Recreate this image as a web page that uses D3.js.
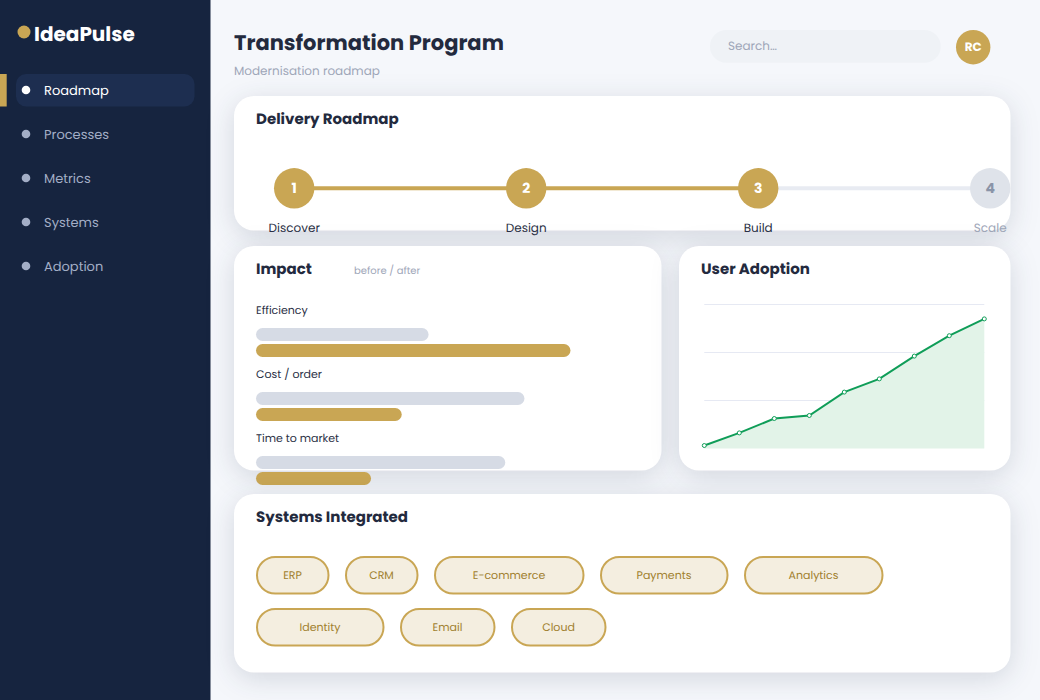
<!DOCTYPE html>
<html>
<head>
<meta charset="utf-8">
<title>Transformation Program</title>
<script src="https://cdn.jsdelivr.net/npm/d3@7"></script>
<style>
  html, body { margin: 0; padding: 0; background: #f5f7fb; overflow: hidden; }
  svg { display: block; font-family: Poppins, Inter, "Open Sans", sans-serif; text-rendering: geometricPrecision; }
  .card { fill: #fff; filter: drop-shadow(0 6px 14px rgba(22, 36, 63, .15)); }
  .card-title { font-size: 15px; font-weight: 700; fill: #232a3e; }
  .grid line { stroke: #e6e9f3; }
  .grid path { display: none; }
</style>
</head>
<body>
<div id="chart"></div>
<script>
const navItems = ["Roadmap", "Processes", "Metrics", "Systems", "Adoption"];
const steps = ["Discover", "Design", "Build", "Scale"];
const stepsDone = 3;
const impactLabels = ["Efficiency", "Cost / order", "Time to market"];
const impactBefore = [45, 70, 65];
const impactAfter = [82, 38, 30];
const adoption = [2.5, 13, 25, 27.5, 47, 58, 77, 94, 108];
const adoptionTicks = [40, 80, 120];
const systems = ["ERP", "CRM", "E-commerce", "Payments", "Analytics", "Identity", "Email", "Cloud"];

const gold = "#c9a654", navy = "#16243f", green = "#0f9d58", muted = "#9ea6b8";

const svg = d3.select("#chart").append("svg")
  .attr("width", 1040)
  .attr("height", 700);

// sidebar
svg.append("rect").attr("width", 210.5).attr("height", 700).attr("fill", navy);
svg.append("circle").attr("cx", 24).attr("cy", 32).attr("r", 6.5).attr("fill", gold);
svg.append("text").attr("x", 34).attr("y", 41)
  .attr("font-size", 20).attr("font-weight", 700).attr("fill", "#fff")
  .text("IdeaPulse");

svg.append("rect").attr("y", 74).attr("width", 6.7).attr("height", 32.5).attr("fill", gold);
svg.append("rect").attr("x", 16).attr("y", 74).attr("width", 178.5).attr("height", 32.5)
  .attr("rx", 10).attr("fill", "#1d2e50");

const navY = d3.scalePoint().domain(navItems).range([90, 266]);
const nav = svg.append("g").selectAll("g").data(navItems).enter().append("g")
  .attr("transform", d => "translate(0," + navY(d) + ")");
nav.append("circle").attr("cx", 26).attr("r", 4.3)
  .attr("fill", (d, i) => i == 0 ? "#fff" : "#a3aec6");
nav.append("text").attr("x", 44).attr("y", 0).attr("dy", "0.35em")
  .attr("font-size", 13)
  .attr("fill", (d, i) => i == 0 ? "#fff" : "#a3aec6")
  .text(d => d);

// header
svg.append("text").attr("x", 234).attr("y", 49.5)
  .attr("font-size", 21).attr("font-weight", 700).attr("fill", "#232a3e")
  .text("Transformation Program");
svg.append("text").attr("x", 234).attr("y", 75)
  .attr("font-size", 12).attr("fill", muted)
  .text("Modernisation roadmap");
svg.append("rect").attr("x", 710).attr("y", 30).attr("width", 230.7).attr("height", 32.7)
  .attr("rx", 16.3).attr("fill", "#eff2f6");
svg.append("text").attr("x", 728).attr("y", 50)
  .attr("font-size", 12).attr("fill", muted)
  .text("Search…");
svg.append("circle").attr("cx", 973.2).attr("cy", 47.2).attr("r", 17.2).attr("fill", gold);
svg.append("text").attr("x", 973.2).attr("y", 47.2).attr("dy", "0.35em")
  .attr("text-anchor", "middle").attr("font-size", 12).attr("font-weight", 700).attr("fill", "#fff")
  .text("RC");

function card(x, y, w, h, title) {
  const g = svg.append("g").attr("transform", "translate(" + x + "," + y + ")");
  g.append("rect").attr("class", "card").attr("width", w).attr("height", h).attr("rx", 20);
  g.append("text").attr("class", "card-title").attr("x", 22).attr("y", 27.5).text(title);
  return g;
}

// delivery roadmap
const road = card(234, 96, 776.5, 134.5, "Delivery Roadmap");
const stepX = d3.scalePoint().domain(steps).range([60.2, 756.2]);
const stepPairs = d3.pairs(steps);
road.selectAll(".link").data(stepPairs).enter().append("line")
  .attr("x1", d => stepX(d[0])).attr("x2", d => stepX(d[1]))
  .attr("y1", 92.3).attr("y2", 92.3)
  .attr("stroke-width", 4)
  .attr("stroke", (d, i) => i < stepsDone - 1 ? gold : "#e8ebf2");
const node = road.selectAll(".node").data(steps).enter().append("g")
  .attr("transform", d => "translate(" + stepX(d) + ",92.3)");
node.append("circle").attr("r", 20.2)
  .attr("fill", (d, i) => i < stepsDone ? gold : "#dfe3ea");
node.append("text").attr("dy", "0.35em").attr("text-anchor", "middle")
  .attr("font-size", 14).attr("font-weight", 700)
  .attr("fill", (d, i) => i < stepsDone ? "#fff" : "#8a94a8")
  .text((d, i) => i + 1);
node.append("text").attr("y", 44.2).attr("text-anchor", "middle")
  .attr("font-size", 12)
  .attr("fill", (d, i) => i < stepsDone ? "#2a3045" : muted)
  .text(d => d);

// impact bars
const impact = card(234, 246, 427.5, 224.5, "Impact");
impact.append("text").attr("x", 120).attr("y", 28)
  .attr("font-size", 10).attr("fill", muted)
  .text("before / after");
const barX = d3.scaleLinear().domain([0, 100]).range([0, 383.5]);
const rowY = d3.scalePoint().domain(impactLabels).range([64, 192]);
const row = impact.selectAll(".row").data(impactLabels).enter().append("g")
  .attr("transform", d => "translate(22," + rowY(d) + ")");
row.append("text").attr("y", 4).attr("font-size", 11)
  .attr("fill", "#2a3045").text(d => d);
row.append("rect").attr("y", 18).attr("height", 13).attr("rx", 6.5)
  .attr("width", (d, i) => barX(impactBefore[i])).attr("fill", "#d6dbe5");
row.append("rect").attr("y", 34).attr("height", 13).attr("rx", 6.5)
  .attr("width", (d, i) => barX(impactAfter[i])).attr("fill", gold);

// user adoption
const user = card(679, 246, 331.5, 224.5, "User Adoption");
const plot = user.append("g").attr("transform", "translate(25.3,0)");
const x = d3.scaleLinear().domain([0, adoption.length - 1]).range([0, 280]);
const y = d3.scaleLinear().domain([0, 120]).range([202.5, 58.5]);
plot.append("g").attr("class", "grid")
  .call(d3.axisLeft(y).tickValues(adoptionTicks).tickSize(-280).tickFormat("").offset(0));
plot.append("path").datum(adoption).attr("fill", "#e2f3e8")
  .attr("d", d3.area().x((d, i) => x(i)).y0(y(0)).y1(d => y(d)));
plot.append("path").datum(adoption).attr("fill", "none")
  .attr("stroke", green).attr("stroke-width", 2)
  .attr("d", d3.line().x((d, i) => x(i)).y(d => y(d)));
plot.selectAll("circle").data(adoption).enter().append("circle")
  .attr("cx", (d, i) => x(i)).attr("cy", d => y(d)).attr("r", 2)
  .attr("fill", "#fff").attr("stroke", green).attr("stroke-width", 1);

// systems pills, width goes by label length, wrapped like a flex row
const sys = card(234, 494, 776.5, 178.5, "Systems Integrated");
const pill = sys.selectAll(".pill").data(systems).enter().append("g");
pill.append("rect").attr("x", 1).attr("y", 1).attr("height", 36.5).attr("rx", 18.2)
  .attr("fill", "#f4eee0").attr("stroke", gold).attr("stroke-width", 2);
pill.append("text").attr("dy", "0.35em").attr("y", 19).attr("text-anchor", "middle")
  .attr("font-size", 11).attr("fill", "#a07f2e").text(d => d);
let px = 22, py = 62;
pill.each(function (d) {
  const p = d3.select(this);
  const w = d.length * 11 + 40;
  if (px + w > 754) { px = 22; py += 52; }
  p.attr("transform", "translate(" + px + "," + py + ")");
  p.select("rect").attr("width", w - 1.5);
  p.select("text").attr("x", w / 2);
  px += w + 16;
});
</script>
</body>
</html>
